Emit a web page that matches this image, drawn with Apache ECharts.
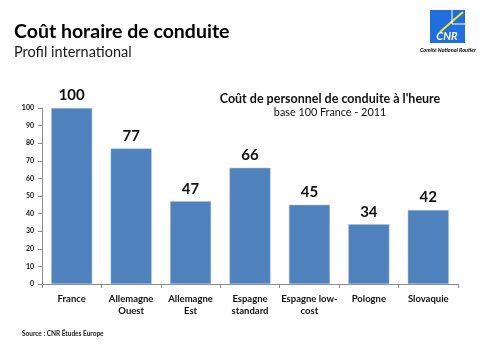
<!DOCTYPE html>
<html><head><meta charset="utf-8">
<script src="https://cdn.jsdelivr.net/npm/echarts@6/dist/echarts.min.js"></script>
<style>html,body{margin:0;padding:0;background:#fff}#c{width:480px;height:360px}</style>
</head><body><div id="c"></div>
<script>
const categories = ['France', 'Allemagne\nOuest', 'Allemagne\nEst', 'Espagne\nstandard', 'Espagne low-\ncost', 'Pologne', 'Slovaquie'];
const values = [100, 77, 47, 66, 45, 34, 42];
const yTicks = [0, 10, 20, 30, 40, 50, 60, 70, 80, 90, 100];

const FONT = 'Lato, "Open Sans", sans-serif';
const chart = echarts.init(document.getElementById('c'), null, {renderer: 'canvas'});
chart.setOption({
  animation: false,
  backgroundColor: '#fff',
  title: [
    {text: 'Coût horaire de conduite', left: 9, top: 17, textStyle: {fontFamily: FONT, fontSize: 19.5, fontWeight: 'bold', color: '#000'}},
    {text: 'Profil international', left: 9, top: 40, textStyle: {fontFamily: FONT, fontSize: 14.5, fontWeight: 'normal', color: '#1a1a1a'}},
    {text: "Coût de personnel de conduite à l'heure", left: 325, textAlign: 'center', top: 87, textStyle: {fontFamily: FONT, fontSize: 12.5, fontWeight: 'bold', color: '#111'}},
    {text: 'base 100 France - 2011', left: 325, textAlign: 'center', top: 102, textStyle: {fontFamily: FONT, fontSize: 10.8, fontWeight: 'normal', color: '#111'}},
    {text: 'Source : CNR Études Europe', left: 17, top: 325, textStyle: {fontFamily: FONT, fontSize: 6.5, fontWeight: 'bold', color: '#222'}}
  ],
  graphic: [
    {type: 'rect', shape: {x: 430, y: 10, width: 35, height: 33}, style: {fill: '#1f6fe0'}},
    {type: 'line', shape: {x1: 440, y1: 32, x2: 463, y2: 12}, style: {stroke: '#ffe600', lineWidth: 2}},
    {type: 'line', shape: {x1: 452, y1: 10, x2: 452, y2: 24}, style: {stroke: '#fff', lineWidth: 1}},
    {type: 'line', shape: {x1: 452, y1: 24, x2: 465, y2: 24}, style: {stroke: '#fff', lineWidth: 1}},
    {type: 'text', style: {x: 447, y: 36, text: 'CNR', fill: '#fff', font: 'italic bold 11px ' + FONT, textAlign: 'center', textVerticalAlign: 'middle'}},
    {type: 'text', style: {x: 448, y: 50, text: 'Comité National Routier', fill: '#000', font: 'italic bold 5.5px ' + FONT, textAlign: 'center', textVerticalAlign: 'middle'}}
  ],
  grid: {left: 42, right: 22, top: 108, bottom: 76, containLabel: false},
  xAxis: {
    type: 'category', data: categories,
    axisLine: {lineStyle: {color: '#8c8c8c', width: 1}},
    axisTick: {show: true, alignWithLabel: false, length: 4, lineStyle: {color: '#8c8c8c'}},
    axisLabel: {fontFamily: FONT, fontSize: 9.5, fontWeight: 'bold', color: '#111', margin: 9, lineHeight: 12, interval: 0}
  },
  yAxis: {
    type: 'value', min: yTicks[0], max: yTicks[yTicks.length - 1], interval: 10,
    axisLine: {show: true, lineStyle: {color: '#8c8c8c', width: 1}},
    axisTick: {show: true, length: 4, lineStyle: {color: '#8c8c8c'}},
    splitLine: {show: false},
    axisLabel: {fontFamily: FONT, fontSize: 7, fontWeight: 'bold', color: '#111', margin: 8}
  },
  series: [{
    type: 'bar', data: values, barWidth: '69%',
    itemStyle: {color: '#4f81bd', borderColor: '#a9c1e0', borderWidth: 0.5},
    label: {show: true, position: 'top', distance: 5, fontFamily: FONT, fontSize: 15, fontWeight: 'bold', color: '#111'}
  }]
});
</script></body></html>
